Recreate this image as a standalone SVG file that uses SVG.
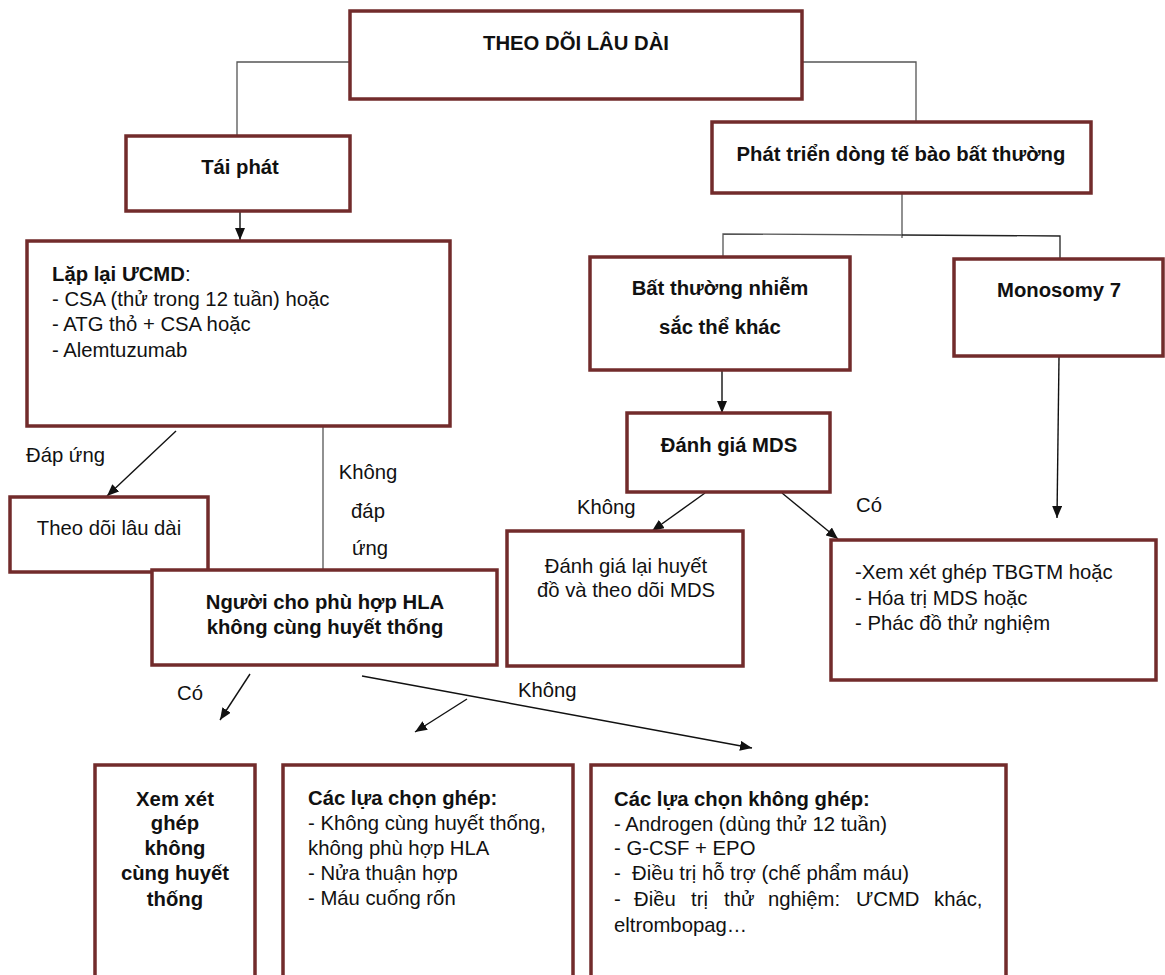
<svg xmlns="http://www.w3.org/2000/svg" width="1165" height="975" viewBox="0 0 1165 975">
<style>
.box{fill:#fff;stroke:#722b2b;stroke-width:3.5}
text{font-family:"Liberation Sans",Arial,sans-serif;font-size:20.3px;fill:#111}
.b{font-weight:bold}
.c{text-anchor:middle}
.tree{fill:none;stroke:#555;stroke-width:1.3}
.arr{fill:none;stroke:#111;stroke-width:1.4;marker-end:url(#ah)}
</style>
<defs>
<marker id="ah" viewBox="0 0 12 10" refX="12" refY="5" markerWidth="12" markerHeight="10" markerUnits="userSpaceOnUse" orient="auto">
<path d="M0,0 L12,5 L0,10 z" fill="#111"/>
</marker>
</defs>
<rect width="1165" height="975" fill="#fff"/>
<g id="connectors">
<polyline class="tree" points="350,62 237,62 237,136"/>
<polyline class="tree" points="802,62 916,62 916,122"/>
<line class="arr" x1="240" y1="212" x2="240" y2="240"/>
<line class="tree" x1="902" y1="194" x2="902" y2="238"/>
<polyline class="tree" points="723,257 723,234 902,235"/>
<polyline class="tree" points="902,235 1060,236 1060,259" style="stroke:#222"/>
<line class="arr" x1="722" y1="370" x2="722" y2="413"/>
<line class="arr" x1="1059" y1="357" x2="1057" y2="518"/>
<line class="arr" x1="176" y1="431" x2="107" y2="496"/>
<line class="tree" x1="323" y1="426" x2="323" y2="570"/>
<line class="arr" x1="250" y1="674" x2="220" y2="720"/>
<line class="arr" x1="362" y1="676" x2="752" y2="748"/>
<line class="arr" x1="467" y1="699" x2="415" y2="732"/>
<line class="arr" x1="705" y1="493" x2="652" y2="531"/>
<line class="arr" x1="782" y1="493" x2="838" y2="539"/>
<text x="26" y="462">Đáp ứng</text>
<text class="c" x="368" y="479">Không</text>
<text class="c" x="368" y="518">đáp</text>
<text class="c" x="370" y="555">ứng</text>
<text x="177" y="700">Có</text>
<text x="518" y="697">Không</text>
<text x="577" y="514">Không</text>
<text x="856" y="512">Có</text>
</g>
<g id="n-root">
<rect class="box" x="350" y="11" width="452" height="88"/>
<text class="b c" x="576" y="50">THEO DÕI LÂU DÀI</text>
</g>
<g id="n-taiphat">
<rect class="box" x="126" y="136" width="224" height="75"/>
<text class="b c" x="240" y="174">Tái phát</text>
</g>
<g id="n-laplai">
<rect class="box" x="27" y="241" width="423" height="185"/>
<text x="52" y="281"><tspan class="b">Lặp lại ƯCMD</tspan>:</text>
<text x="52" y="306">- CSA (thử trong 12 tuần) hoặc</text>
<text x="52" y="331">- ATG thỏ + CSA hoặc</text>
<text x="52" y="357">- Alemtuzumab</text>
</g>
<g id="n-theodoi">
<rect class="box" x="10" y="497" width="198" height="75"/>
<text class="c" x="109" y="535">Theo dõi lâu dài</text>
</g>
<g id="n-nguoicho">
<rect class="box" x="152" y="570" width="345" height="95"/>
<text class="b c" x="325" y="609">Người cho phù hợp HLA</text>
<text class="b c" x="325" y="634">không cùng huyết thống</text>
</g>
<g id="n-phattrien">
<rect class="box" x="712" y="122" width="379" height="71"/>
<text class="b c" x="901" y="161">Phát triển dòng tế bào bất thường</text>
</g>
<g id="n-batthuong">
<rect class="box" x="590" y="257" width="260" height="113"/>
<text class="b c" x="720" y="295">Bất thường nhiễm</text>
<text class="b c" x="720" y="334">sắc thể khác</text>
</g>
<g id="n-monosomy">
<rect class="box" x="954" y="259" width="209" height="97"/>
<text class="b c" x="1059" y="297">Monosomy 7</text>
</g>
<g id="n-mds">
<rect class="box" x="627" y="413" width="203" height="79"/>
<text class="b c" x="729" y="452">Đánh giá MDS</text>
</g>
<g id="n-danhgialai">
<rect class="box" x="507" y="531" width="236" height="135"/>
<text class="c" x="626" y="573">Đánh giá lại huyết</text>
<text class="c" x="626" y="597">đồ và theo dõi MDS</text>
</g>
<g id="n-xemxet-tbgtm">
<rect class="box" x="831" y="540" width="325" height="140"/>
<text x="855" y="579">-Xem xét ghép TBGTM hoặc</text>
<text x="855" y="605">- Hóa trị MDS hoặc</text>
<text x="855" y="630">- Phác đồ thử nghiệm</text>
</g>
<g id="n-xemxet-ghep">
<rect class="box" x="95" y="765" width="160" height="220"/>
<text class="b c" x="175" y="806">Xem xét</text>
<text class="b c" x="175" y="830">ghép</text>
<text class="b c" x="175" y="855">không</text>
<text class="b c" x="175" y="880">cùng huyết</text>
<text class="b c" x="175" y="906">thống</text>
</g>
<g id="n-luachonghep">
<rect class="box" x="283" y="765" width="290" height="220"/>
<text class="b" x="308" y="805">Các lựa chọn ghép:</text>
<text x="308" y="830">- Không cùng huyết thống,</text>
<text x="308" y="855">không phù hợp HLA</text>
<text x="308" y="880">- Nửa thuận hợp</text>
<text x="308" y="905">- Máu cuống rốn</text>
</g>
<g id="n-khongghep">
<rect class="box" x="591" y="765" width="415" height="220"/>
<text class="b" x="614" y="806">Các lựa chọn không ghép:</text>
<text x="614" y="831">- Androgen (dùng thử 12 tuần)</text>
<text x="614" y="855">- G-CSF + EPO</text>
<text x="614" y="880">-&#160; Điều trị hỗ trợ (chế phẩm máu)</text>
<text y="906"><tspan x="614">-</tspan><tspan x="634">Điều</tspan><tspan x="691">trị</tspan><tspan x="724">thử</tspan><tspan x="768">nghiệm:</tspan><tspan x="856">ƯCMD</tspan><tspan x="934">khác,</tspan></text>
<text x="614" y="932">eltrombopag…</text>
</g>
</svg>
